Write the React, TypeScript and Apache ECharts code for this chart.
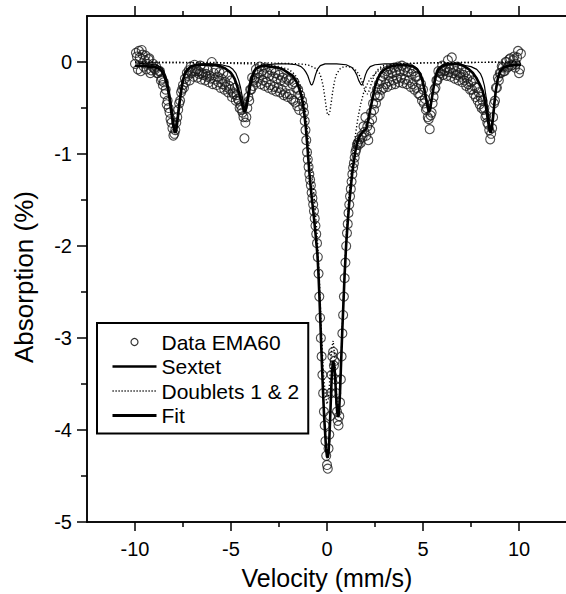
import React, { useEffect, useRef } from "react";
import * as echarts from "echarts";

const xMajorTicks = [-10, -5, 0, 5, 10];
const xMinorTicks = [-7.5, -2.5, 2.5, 7.5];
const yMajorTicks = [-5, -4, -3, -2, -1, 0];
const yMinorTicks = [-4.5, -3.5, -2.5, -1.5, -0.5];

const dataEMA60: [number, number][] = [
  [-10.0, -0.02], [-9.9, 0.06], [-9.8, 0.12], [-9.7, -0.1], [-9.6, 0.08], [-9.5, 0.02], [-9.4, -0.08], [-9.3, 0.03],
  [-9.2, -0.12], [-9.1, -0.05], [-9.0, -0.07], [-8.9, -0.05], [-8.8, -0.12], [-8.7, -0.1], [-8.6, -0.18], [-8.5, -0.22],
  [-8.4, -0.3], [-8.3, -0.42], [-8.2, -0.55], [-8.1, -0.66], [-8.0, -0.8], [-7.9, -0.74], [-7.8, -0.6], [-7.7, -0.45],
  [-7.6, -0.33], [-7.5, -0.25], [-7.4, -0.18], [-7.3, -0.12], [-7.2, -0.09], [-7.1, -0.05], [-7.0, -0.1], [-6.9, -0.03],
  [-6.8, -0.08], [-6.7, -0.1], [-6.6, -0.04], [-6.5, -0.12], [-6.4, -0.07], [-6.3, -0.13], [-6.2, -0.09], [-6.1, -0.15],
  [-6.0, 0.0], [-5.9, -0.12], [-5.8, -0.08], [-5.7, -0.16], [-5.6, -0.11], [-5.5, -0.18], [-5.4, -0.12], [-5.3, -0.22],
  [-5.2, -0.15], [-5.1, -0.26], [-5.0, -0.2], [-4.9, -0.33], [-4.8, -0.28], [-4.7, -0.36], [-4.6, -0.42], [-4.5, -0.47],
  [-4.4, -0.55], [-4.3, -0.83], [-4.2, -0.6], [-4.1, -0.38], [-4.0, -0.3], [-3.9, -0.17], [-3.8, -0.2], [-3.7, -0.08],
  [-3.6, -0.12], [-3.5, -0.05], [-3.4, -0.1], [-3.3, -0.13], [-3.2, -0.06], [-3.1, -0.12], [-3.0, -0.15], [-2.9, -0.09],
  [-2.8, -0.16], [-2.7, -0.12], [-2.6, -0.18], [-2.5, -0.14], [-2.4, -0.2], [-2.3, -0.17], [-2.2, -0.22], [-2.1, -0.18],
  [-2.0, -0.2], [-1.9, -0.18], [-1.8, -0.24], [-1.7, -0.22], [-1.6, -0.28], [-1.5, -0.3], [-1.4, -0.36], [-1.3, -0.42],
  [-1.24, -0.48], [-1.2, -0.55], [-1.16, -0.64], [-1.12, -0.74], [-1.08, -0.85], [-1.04, -0.98], [-1.0, -1.06], [-0.96, -1.14],
  [-0.92, -1.22], [-0.88, -1.28], [-0.84, -1.34], [-0.8, -1.42], [-0.76, -1.48], [-0.72, -1.55], [-0.68, -1.62], [-0.64, -1.7],
  [-0.6, -1.78], [-0.56, -1.87], [-0.52, -1.97], [-0.48, -2.12], [-0.44, -2.3], [-0.4, -2.55], [-0.36, -2.78], [-0.32, -3.0],
  [-0.28, -3.2], [-0.24, -3.4], [-0.2, -3.6], [-0.16, -3.8], [-0.12, -3.95], [-0.08, -4.12], [-0.04, -4.28], [0.0, -4.38],
  [0.04, -4.42], [0.08, -4.2], [0.12, -4.05], [0.16, -3.85], [0.2, -3.6], [0.24, -3.4], [0.28, -3.2], [0.32, -3.15],
  [0.36, -3.3], [0.4, -3.25], [0.44, -3.45], [0.48, -3.6], [0.52, -3.8], [0.56, -3.9], [0.6, -3.95], [0.64, -3.85],
  [0.68, -3.7], [0.72, -3.45], [0.76, -3.2], [0.8, -2.95], [0.84, -2.75], [0.88, -2.55], [0.92, -2.35], [0.96, -2.18],
  [1.0, -2.0], [1.04, -1.86], [1.08, -1.76], [1.12, -1.64], [1.16, -1.55], [1.2, -1.46], [1.24, -1.38], [1.28, -1.3],
  [1.32, -1.22], [1.36, -1.15], [1.4, -1.1], [1.44, -1.04], [1.48, -0.98], [1.52, -0.95], [1.56, -0.9], [1.6, -0.88],
  [1.7, -0.84], [1.8, -0.8], [1.9, -0.7], [2.0, -0.6], [2.1, -0.7], [2.2, -0.66], [2.3, -0.55], [2.4, -0.45],
  [2.5, -0.36], [2.6, -0.3], [2.7, -0.24], [2.8, -0.2], [2.9, -0.16], [3.0, -0.13], [3.1, -0.1], [3.2, -0.14],
  [3.3, -0.08], [3.4, -0.12], [3.5, -0.06], [3.6, -0.11], [3.7, -0.05], [3.8, -0.1], [3.9, -0.04], [4.0, -0.09],
  [4.1, -0.06], [4.2, -0.11], [4.3, -0.07], [4.4, -0.13], [4.5, -0.1], [4.6, -0.16], [4.7, -0.15], [4.8, -0.2],
  [4.9, -0.24], [5.0, -0.3], [5.1, -0.4], [5.2, -0.5], [5.3, -0.62], [5.35, -0.73], [5.4, -0.58], [5.5, -0.45],
  [5.6, -0.3], [5.7, -0.2], [5.8, -0.1], [5.9, -0.12], [6.0, -0.04], [6.1, -0.1], [6.2, -0.06], [6.3, 0.02],
  [6.4, -0.08], [6.5, 0.05], [6.6, -0.06], [6.7, -0.1], [6.8, -0.05], [6.9, -0.12], [7.0, -0.08], [7.1, -0.14],
  [7.2, -0.11], [7.3, -0.18], [7.4, -0.15], [7.5, -0.22], [7.6, -0.2], [7.7, -0.27], [7.8, -0.28], [7.9, -0.33],
  [8.0, -0.38], [8.1, -0.42], [8.2, -0.5], [8.3, -0.58], [8.4, -0.68], [8.5, -0.84], [8.6, -0.72], [8.7, -0.45],
  [8.8, -0.28], [8.9, -0.17], [9.0, -0.12], [9.1, -0.05], [9.2, -0.1], [9.3, 0.0], [9.4, -0.06], [9.5, 0.03],
  [9.6, -0.04], [9.7, 0.02], [9.8, -0.06], [9.9, 0.05], [10.0, -0.12], [10.1, 0.09],
  [-9.95, 0.1], [-9.85, -0.08], [-9.75, 0.05], [-9.65, 0.13], [-9.55, -0.05], [-9.45, 0.07], [-9.35, -0.02], [-9.25, 0.04],
  [-9.15, -0.09], [-9.05, -0.02], [-8.95, -0.08], [-8.85, -0.12], [-8.75, -0.1], [-8.65, -0.2], [-8.55, -0.25], [-8.45, -0.35],
  [-8.35, -0.46], [-8.25, -0.5], [-8.15, -0.62], [-8.05, -0.72], [-7.95, -0.78], [-7.85, -0.66], [-7.75, -0.52], [-7.65, -0.42],
  [-7.55, -0.3], [-7.45, -0.28], [-7.35, -0.22], [-7.25, -0.15], [-7.15, -0.2], [-7.05, -0.12], [-6.95, -0.16], [-6.85, -0.1],
  [-6.75, -0.17], [-6.65, -0.13], [-6.55, -0.19], [-6.45, -0.14], [-6.35, -0.2], [-6.25, -0.16], [-6.15, -0.22], [-6.05, -0.18],
  [-5.95, -0.24], [-5.85, -0.19], [-5.75, -0.25], [-5.65, -0.22], [-5.55, -0.28], [-5.45, -0.24], [-5.35, -0.3], [-5.25, -0.27],
  [-5.15, -0.33], [-5.05, -0.3], [-4.95, -0.38], [-4.85, -0.35], [-4.75, -0.42], [-4.65, -0.4], [-4.55, -0.5], [-4.45, -0.52],
  [-4.35, -0.6], [-4.25, -0.66], [-4.15, -0.5], [-4.05, -0.42], [-3.95, -0.3], [-3.85, -0.26], [-3.75, -0.18], [-3.65, -0.22],
  [-3.55, -0.17], [-3.45, -0.24], [-3.35, -0.2], [-3.25, -0.26], [-3.15, -0.22], [-3.05, -0.28], [-2.95, -0.25], [-2.85, -0.3],
  [-2.75, -0.27], [-2.65, -0.32], [-2.55, -0.28], [-2.45, -0.33], [-2.35, -0.3], [-2.25, -0.36], [-2.15, -0.34], [-2.05, -0.38],
  [-1.95, -0.35], [-1.85, -0.4], [-1.75, -0.42], [-1.65, -0.44], [-1.55, -0.48], [-1.45, -0.52],
  [1.65, -0.9], [1.75, -0.88], [1.85, -0.82], [1.95, -0.76], [2.05, -0.8], [2.15, -0.85], [2.25, -0.74], [2.35, -0.62],
  [2.45, -0.52], [2.55, -0.45], [2.65, -0.38], [2.75, -0.36], [2.85, -0.3], [2.95, -0.28], [3.05, -0.24], [3.15, -0.27],
  [3.25, -0.21], [3.35, -0.25], [3.45, -0.2], [3.55, -0.24], [3.65, -0.18], [3.75, -0.22], [3.85, -0.17], [3.95, -0.23],
  [4.05, -0.19], [4.15, -0.24], [4.25, -0.2], [4.35, -0.27], [4.45, -0.24], [4.55, -0.3], [4.65, -0.28], [4.75, -0.34],
  [4.85, -0.36], [4.95, -0.42], [5.05, -0.45], [5.15, -0.52], [5.25, -0.6], [5.45, -0.55], [5.55, -0.38], [5.65, -0.28],
  [5.75, -0.2], [5.85, -0.16], [5.95, -0.1], [6.05, -0.14], [6.15, -0.09], [6.25, -0.15], [6.35, -0.11], [6.45, -0.16],
  [6.55, -0.12], [6.65, -0.18], [6.75, -0.14], [6.85, -0.2], [6.95, -0.16], [7.05, -0.22], [7.15, -0.2], [7.25, -0.26],
  [7.35, -0.24], [7.45, -0.3], [7.55, -0.3], [7.65, -0.35], [7.75, -0.38], [7.85, -0.42], [7.95, -0.46], [8.05, -0.5],
  [8.15, -0.52], [8.25, -0.6], [8.35, -0.66], [8.45, -0.74], [8.55, -0.78], [8.65, -0.6], [8.75, -0.42], [8.85, -0.28],
  [8.95, -0.2], [9.05, -0.12], [9.15, -0.06], [9.25, -0.1], [9.35, 0.0], [9.45, -0.05], [9.55, 0.04], [9.65, -0.03],
  [9.75, 0.06], [9.85, -0.02], [9.95, 0.12], [10.05, -0.08],
];

const sextetCurve: [number, number][] = [
  [-10, -0.01], [-9.4, -0.02], [-9.0, -0.03], [-8.8, -0.04], [-8.6, -0.07], [-8.5, -0.1], [-8.4, -0.15], [-8.3, -0.22],
  [-8.2, -0.33], [-8.1, -0.47], [-8.0, -0.63], [-7.95, -0.7], [-7.92, -0.72], [-7.88, -0.7], [-7.8, -0.6], [-7.7, -0.43],
  [-7.6, -0.28], [-7.5, -0.18], [-7.4, -0.11], [-7.25, -0.07], [-7.0, -0.04], [-6.6, -0.02], [-6.0, -0.02], [-5.5, -0.03],
  [-5.1, -0.05], [-4.9, -0.08], [-4.75, -0.12], [-4.6, -0.2], [-4.5, -0.28], [-4.4, -0.39], [-4.33, -0.47], [-4.29, -0.5],
  [-4.25, -0.48], [-4.15, -0.38], [-4.05, -0.25], [-3.95, -0.16], [-3.8, -0.09], [-3.6, -0.05], [-3.2, -0.03], [-2.6, -0.02],
  [-2.0, -0.02], [-1.6, -0.03], [-1.35, -0.05], [-1.2, -0.08], [-1.1, -0.11], [-1.0, -0.15], [-0.92, -0.2], [-0.85, -0.24],
  [-0.8, -0.25], [-0.75, -0.24], [-0.68, -0.2], [-0.6, -0.14], [-0.5, -0.08], [-0.35, -0.04], [-0.1, -0.02], [0.5, -0.02],
  [1.0, -0.03], [1.3, -0.06], [1.45, -0.1], [1.55, -0.14], [1.65, -0.2], [1.75, -0.24], [1.8, -0.25], [1.85, -0.24],
  [1.92, -0.2], [2.0, -0.14], [2.1, -0.09], [2.25, -0.05], [2.5, -0.03], [3.0, -0.02], [3.6, -0.02], [4.1, -0.03],
  [4.5, -0.05], [4.7, -0.08], [4.85, -0.12], [4.95, -0.17], [5.05, -0.25], [5.15, -0.36], [5.25, -0.47], [5.31, -0.5],
  [5.37, -0.48], [5.47, -0.38], [5.57, -0.26], [5.67, -0.17], [5.8, -0.1], [6.0, -0.05], [6.4, -0.03], [7.0, -0.03],
  [7.5, -0.05], [7.8, -0.08], [8.0, -0.13], [8.1, -0.18], [8.2, -0.26], [8.3, -0.4], [8.4, -0.56], [8.47, -0.68],
  [8.52, -0.72], [8.57, -0.69], [8.65, -0.56], [8.72, -0.42], [8.8, -0.28], [8.9, -0.16], [9.0, -0.1], [9.2, -0.05],
  [9.5, -0.03], [10.1, -0.02],
];

const doublet1Curve: [number, number][] = [
  [-10, 0], [-8, -0.01], [-6, -0.01], [-4, -0.02], [-3, -0.03], [-2.5, -0.05], [-2, -0.08], [-1.8, -0.11],
  [-1.6, -0.16], [-1.4, -0.25], [-1.3, -0.32], [-1.2, -0.42], [-1.1, -0.56], [-1.0, -0.8], [-0.9, -1.0], [-0.8, -1.18],
  [-0.7, -1.4], [-0.6, -1.65], [-0.5, -1.92], [-0.4, -2.35], [-0.3, -2.88], [-0.2, -3.33], [-0.1, -3.6], [0.0, -3.72],
  [0.08, -3.65], [0.16, -3.4], [0.24, -3.12], [0.32, -3.03], [0.4, -3.2], [0.48, -3.55], [0.56, -3.78], [0.64, -3.7],
  [0.72, -3.3], [0.82, -2.75], [0.92, -2.24], [1.02, -1.82], [1.15, -1.44], [1.3, -1.08], [1.45, -0.84], [1.6, -0.62],
  [1.75, -0.46], [1.9, -0.34], [2.05, -0.26], [2.2, -0.2], [2.4, -0.15], [2.7, -0.09], [3.0, -0.05], [3.5, -0.03],
  [4.0, -0.02], [5.0, -0.01], [10.1, 0],
];

const doublet2Curve: [number, number][] = [
  [-10, 0], [-3, -0.01], [-1.5, -0.02], [-1.0, -0.03], [-0.6, -0.07], [-0.4, -0.12], [-0.3, -0.17], [-0.2, -0.26],
  [-0.1, -0.4], [-0.05, -0.48], [0.0, -0.55], [0.07, -0.58], [0.14, -0.55], [0.2, -0.47], [0.3, -0.32], [0.4, -0.2],
  [0.5, -0.13], [0.7, -0.07], [0.9, -0.05], [1.1, -0.05], [1.3, -0.06], [1.5, -0.09], [1.65, -0.13], [1.8, -0.2],
  [1.9, -0.26], [2.0, -0.32], [2.1, -0.35], [2.2, -0.31], [2.3, -0.24], [2.45, -0.15], [2.6, -0.09], [2.9, -0.04],
  [3.5, -0.02], [5.0, -0.01], [10.1, 0],
];

const fitCurve: [number, number][] = [
  [-10, -0.04], [-9.6, -0.04], [-9.3, -0.05], [-9.0, -0.05], [-8.8, -0.07], [-8.7, -0.08], [-8.6, -0.1], [-8.5, -0.14],
  [-8.4, -0.2], [-8.3, -0.28], [-8.2, -0.4], [-8.1, -0.56], [-8.0, -0.7], [-7.95, -0.75], [-7.9, -0.77], [-7.85, -0.74],
  [-7.8, -0.66], [-7.7, -0.48], [-7.6, -0.32], [-7.5, -0.2], [-7.4, -0.13], [-7.3, -0.09], [-7.1, -0.05], [-6.8, -0.03],
  [-6.3, -0.03], [-6.0, -0.03], [-5.7, -0.04], [-5.5, -0.05], [-5.3, -0.07], [-5.1, -0.1], [-5.0, -0.12], [-4.9, -0.15],
  [-4.8, -0.19], [-4.7, -0.25], [-4.6, -0.32], [-4.5, -0.4], [-4.4, -0.48], [-4.33, -0.53], [-4.28, -0.54], [-4.2, -0.5],
  [-4.1, -0.38], [-4.0, -0.26], [-3.9, -0.17], [-3.8, -0.11], [-3.7, -0.07], [-3.5, -0.05], [-3.3, -0.04], [-3.0, -0.05],
  [-2.6, -0.06], [-2.3, -0.08], [-2.0, -0.12], [-1.8, -0.15], [-1.6, -0.21], [-1.5, -0.26], [-1.4, -0.32], [-1.3, -0.4],
  [-1.2, -0.53], [-1.1, -0.72], [-1.0, -0.98], [-0.9, -1.25], [-0.8, -1.46], [-0.7, -1.65], [-0.6, -1.86], [-0.5, -2.09],
  [-0.45, -2.28], [-0.4, -2.52], [-0.35, -2.8], [-0.3, -3.09], [-0.25, -3.36], [-0.2, -3.62], [-0.15, -3.85], [-0.1, -4.02],
  [-0.05, -4.2], [0.0, -4.29], [0.04, -4.3], [0.08, -4.25], [0.12, -4.1], [0.16, -3.9], [0.2, -3.67], [0.24, -3.45],
  [0.28, -3.32], [0.32, -3.25], [0.36, -3.28], [0.4, -3.35], [0.44, -3.5], [0.48, -3.65], [0.52, -3.78], [0.56, -3.85],
  [0.6, -3.85], [0.64, -3.75], [0.68, -3.58], [0.72, -3.35], [0.76, -3.12], [0.8, -2.9], [0.84, -2.7], [0.88, -2.5],
  [0.92, -2.3], [0.96, -2.14], [1.0, -1.98], [1.08, -1.74], [1.16, -1.53], [1.24, -1.36], [1.32, -1.2], [1.4, -1.08],
  [1.48, -0.97], [1.56, -0.89], [1.65, -0.83], [1.75, -0.79], [1.85, -0.76], [1.95, -0.74], [2.05, -0.72], [2.15, -0.63],
  [2.25, -0.52], [2.35, -0.42], [2.5, -0.27], [2.65, -0.18], [2.8, -0.12], [3.0, -0.08], [3.3, -0.05], [3.8, -0.03],
  [4.3, -0.04], [4.5, -0.05], [4.7, -0.08], [4.85, -0.13], [4.95, -0.19], [5.05, -0.28], [5.15, -0.39], [5.25, -0.5],
  [5.31, -0.54], [5.38, -0.5], [5.48, -0.37], [5.58, -0.24], [5.68, -0.14], [5.8, -0.08], [6.0, -0.04], [6.3, -0.02],
  [6.8, -0.02], [7.1, -0.04], [7.4, -0.08], [7.6, -0.12], [7.8, -0.18], [7.95, -0.24], [8.1, -0.31], [8.2, -0.4],
  [8.3, -0.52], [8.4, -0.66], [8.47, -0.74], [8.52, -0.77], [8.58, -0.73], [8.65, -0.6], [8.72, -0.45], [8.8, -0.3],
  [8.9, -0.18], [9.0, -0.11], [9.2, -0.06], [9.5, -0.04], [10.1, -0.03],
];

const FONT = "'Liberation Sans', Arial, Helvetica, sans-serif";
const HIDDEN_SYMBOL = { color: "rgba(0,0,0,0)", borderColor: "rgba(0,0,0,0)", borderWidth: 0, opacity: 0 };

export default function App() {
  const ref = useRef<HTMLDivElement>(null);

  useEffect(() => {
    if (!ref.current) return;
    const chart = echarts.init(ref.current, undefined, { renderer: "svg" });

    const axisLine = { show: true, onZero: false, lineStyle: { color: "#000", width: 1.5 } };
    const tickStyle = { color: "#000", width: 1.5 };
    const xBase = { type: "value", min: -12.5, max: 12.5, splitLine: { show: false }, axisLine, gridIndex: 0 };
    const yBase = { type: "value", min: -5, max: 0.5, splitLine: { show: false }, axisLine, gridIndex: 0 };

    chart.setOption({
      animation: false,
      backgroundColor: "#fff",
      textStyle: { fontFamily: FONT },
      grid: { left: 87, top: 16, width: 480, height: 506, containLabel: false, outerBoundsMode: "none" },
      xAxis: [
        {
          ...xBase,
          position: "bottom",
          axisTick: { show: true, customValues: xMajorTicks, length: 9, lineStyle: tickStyle },
          axisLabel: { show: true, customValues: xMajorTicks, fontSize: 20, color: "#000", margin: 17, fontFamily: FONT },
          name: "Velocity (mm/s)",
          nameLocation: "middle",
          nameGap: 43,
          nameTextStyle: { fontSize: 25, color: "#000", fontFamily: FONT },
        },
        {
          ...xBase,
          position: "bottom",
          axisTick: { show: true, customValues: xMinorTicks, length: 5, lineStyle: tickStyle },
          axisLabel: { show: false },
        },
        {
          ...xBase,
          position: "top",
          axisTick: { show: true, customValues: xMajorTicks, length: 10, lineStyle: tickStyle },
          axisLabel: { show: false },
        },
        {
          ...xBase,
          position: "top",
          axisTick: { show: true, customValues: xMinorTicks, length: 5, lineStyle: tickStyle },
          axisLabel: { show: false },
        },
      ],
      yAxis: [
        {
          ...yBase,
          position: "left",
          axisTick: { show: true, customValues: yMajorTicks, length: 10, lineStyle: tickStyle },
          axisLabel: { show: true, customValues: yMajorTicks, fontSize: 20, color: "#000", margin: 15, fontFamily: FONT },
          name: "Absorption (%)",
          nameLocation: "middle",
          nameGap: 50,
          nameRotate: 90,
          nameTextStyle: { fontSize: 26, color: "#000", fontFamily: FONT, padding: [0, 16, 0, 0] },
        },
        {
          ...yBase,
          position: "left",
          axisTick: { show: true, customValues: yMinorTicks, length: 6, lineStyle: tickStyle },
          axisLabel: { show: false },
        },
      ],
      legend: {
        orient: "vertical",
        left: 97,
        top: 323,
        padding: [8, 9, 7, 14],
        itemWidth: 44,
        itemHeight: 7,
        itemGap: 2.5,
        borderColor: "#000",
        borderWidth: 2,
        backgroundColor: "#fff",
        selectedMode: false,
        textStyle: { fontSize: 21, color: "#000", fontFamily: FONT, lineHeight: 22 },
        data: [
          { name: "Data EMA60", icon: "circle", itemStyle: { color: "#fff", borderColor: "#000", borderWidth: 1.2 } },
          { name: "Sextet", lineStyle: { width: 2.5, color: "#000" }, itemStyle: HIDDEN_SYMBOL },
          { name: "Doublets 1 & 2", lineStyle: { width: 1.5, color: "#000", type: [1.2, 1.8] }, itemStyle: HIDDEN_SYMBOL },
          { name: "Fit", lineStyle: { width: 3, color: "#000" }, itemStyle: HIDDEN_SYMBOL },
        ],
      },
      series: [
        {
          name: "Data EMA60",
          type: "scatter",
          data: dataEMA60,
          symbol: "circle",
          symbolSize: 9,
          itemStyle: { color: "transparent", borderColor: "#1a1a1a", borderWidth: 1.1 },
          z: 2,
        },
        {
          name: "Sextet",
          type: "line",
          data: sextetCurve,
          symbol: "none",
          itemStyle: { color: "#000" },
          lineStyle: { color: "#000", width: 1.2 },
          z: 3,
        },
        {
          name: "Doublets 1 & 2",
          type: "line",
          data: doublet1Curve,
          symbol: "none",
          itemStyle: { color: "#000" },
          lineStyle: { color: "#000", width: 1.4, type: [1.2, 2.2] },
          z: 3,
        },
        {
          name: "Doublets 1 & 2",
          type: "line",
          data: doublet2Curve,
          symbol: "none",
          itemStyle: { color: "#000" },
          lineStyle: { color: "#000", width: 1.4, type: [1.2, 2.2] },
          z: 3,
        },
        {
          name: "Fit",
          type: "line",
          data: fitCurve,
          symbol: "none",
          itemStyle: { color: "#000" },
          lineStyle: { color: "#000", width: 2.6 },
          z: 4,
        },
      ],
    });

    return () => chart.dispose();
  }, []);

  return (
    <div
      ref={ref}
      style={{ position: "absolute", left: 0, top: 0, width: 566, height: 594, background: "#fff" }}
    />
  );
}
